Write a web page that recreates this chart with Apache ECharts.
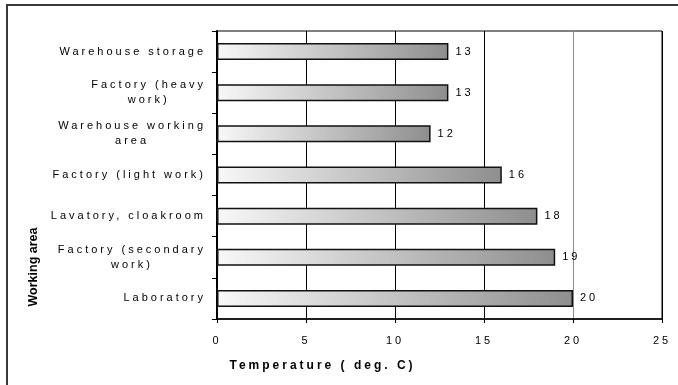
<!DOCTYPE html>
<html>
<head>
<meta charset="utf-8">
<script src="https://cdn.jsdelivr.net/npm/echarts@6/dist/echarts.min.js"></script>
<style>
html,body{margin:0;padding:0;background:#fff;}
#chart{width:678px;height:385px;}
</style>
</head>
<body>
<div id="chart"></div>
<script>
// Data (bottom to top, as the category axis draws them)
var categories = [
  'Laboratory',
  'Factory (secondary\nwork)',
  'Lavatory, cloakroom',
  'Factory (light work)',
  'Warehouse working\narea',
  'Factory (heavy\nwork)',
  'Warehouse storage'
];
var temperatures = [20, 19, 18, 16, 12, 13, 13];
var xTicks = { min: 0, max: 25, interval: 5 };
var xAxisTitle = 'Temperature ( deg. C)';
var yAxisTitle = 'Working area';

// Letter-spaced text (the reference uses widely tracked lettering)
var SPACED = 'Liberation Sans';
var PLAIN = 'Liberation Sans, sans-serif';
function spacingFor(font) {
  return (font && font.indexOf('sans-serif') < 0) ? '3px' : '0px';
}
(function () {
  var proto = CanvasRenderingContext2D.prototype;
  var origFill = proto.fillText;
  proto.fillText = function (t, x, y, m) {
    try { this.letterSpacing = spacingFor(this.font); } catch (e) {}
    if (arguments.length > 3 && m !== undefined) return origFill.call(this, t, x, y, m);
    return origFill.call(this, t, x, y);
  };
  var mc = document.createElement('canvas').getContext('2d');
  if (echarts.setPlatformAPI) {
    echarts.setPlatformAPI({
      measureText: function (text, font) {
        mc.font = font;
        try { mc.letterSpacing = spacingFor(font); } catch (e) {}
        return mc.measureText(text);
      }
    });
  }
})();

var chart = echarts.init(document.getElementById('chart'), null, { renderer: 'canvas' });

var option = {
  animation: false,
  backgroundColor: '#fff',
  graphic: [{
    type: 'rect',
    shape: { x: 7, y: 5, width: 700, height: 420 },
    style: { fill: 'none', stroke: '#3a3a3a', lineWidth: 2 },
    silent: true
  }],
  grid: {
    left: 217, right: 16, top: 31, bottom: 66,
    show: true, borderColor: '#000', borderWidth: 1,
    containLabel: false, outerBoundsMode: 'none'
  },
  xAxis: {
    type: 'value',
    min: xTicks.min, max: xTicks.max, interval: xTicks.interval,
    name: xAxisTitle,
    nameLocation: 'middle',
    nameGap: 39,
    nameTextStyle: {
      fontFamily: SPACED, fontSize: 12, fontWeight: 'bold', color: '#000',
      padding: [0, 234, 0, 0]
    },
    axisLine: { show: true, lineStyle: { color: '#000', width: 1.5 } },
    axisTick: { show: true, inside: false, length: 4, lineStyle: { color: '#000' } },
    axisLabel: { margin: 15, fontFamily: SPACED, fontSize: 11, color: '#000' },
    splitLine: {
      show: true,
      lineStyle: { color: ['#000', '#000', '#000', '#000', '#8a8a8a', '#000'], width: 1 }
    }
  },
  yAxis: {
    type: 'category',
    data: categories,
    name: yAxisTitle,
    nameLocation: 'middle',
    nameRotate: 90,
    nameGap: 176,
    nameTextStyle: {
      fontFamily: PLAIN, fontSize: 12.5, fontWeight: 'bold', color: '#000',
      padding: [0, 184, 0, 0]
    },
    axisLine: { show: true, lineStyle: { color: '#000', width: 2 } },
    axisTick: { show: true, inside: false, length: 5, alignWithLabel: false, lineStyle: { color: '#000' } },
    axisLabel: {
      margin: 11,
      fontFamily: SPACED, fontSize: 11, color: '#000',
      lineHeight: 15,
      formatter: function (v) {
        return v.split('\n').map(function (s) { return '{c|' + s + '}'; }).join('\n');
      },
      rich: {
        c: { align: 'center', fontFamily: SPACED, fontSize: 11, color: '#000', lineHeight: 15 }
      }
    },
    splitLine: { show: false }
  },
  series: [{
    type: 'bar',
    data: temperatures,
    barWidth: 17,
    itemStyle: {
      color: new echarts.graphic.LinearGradient(0, 0, 1, 0, [
        { offset: 0, color: '#f8f8f8' },
        { offset: 1, color: '#8e8e8e' }
      ]),
      borderColor: '#111',
      borderWidth: 1.5
    },
    label: {
      show: true,
      position: 'right',
      distance: 7,
      fontFamily: SPACED,
      fontSize: 11,
      color: '#000'
    }
  }]
};
chart.setOption(option);
</script>
</body>
</html>
